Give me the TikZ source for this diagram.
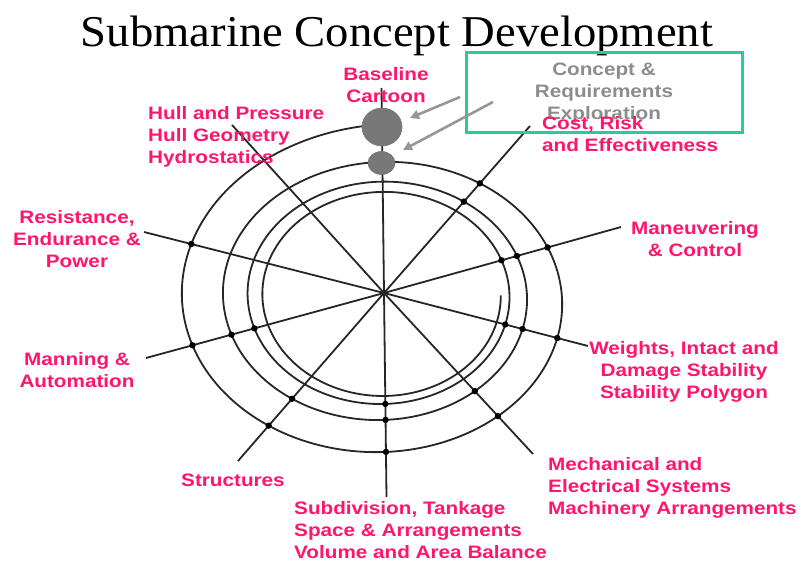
\documentclass[tikz,border=0pt]{standalone}
\usepackage{fontspec}
\setmainfont{Liberation Serif}
\newfontfamily\titlefont[FakeStretch=1.06]{Liberation Serif}
\newfontfamily\lblfont[FakeStretch=1.15]{Liberation Sans}
\usetikzlibrary{intersections,arrows.meta,shapes.geometric}

\definecolor{lblpink}{RGB}{255,20,110}
\definecolor{boxgreen}{RGB}{40,205,150}
\definecolor{boxtext}{RGB}{140,140,140}
\definecolor{arrowgray}{RGB}{150,150,150}
\definecolor{discgray}{RGB}{120,120,120}

\begin{document}
\begin{tikzpicture}[x=1pt,y=-1pt,
  declare function={
    Tt(\t)=203-79*exp(-0.6539*(\t-90)/360);
    Ll(\t)=284.5-102.5*exp(-0.5108*(\t-180)/360);
    Bb(\t)=388+64*exp(-0.6931*(\t-270)/360);
    Rr(\t)=492+70*exp(-0.6931*(\t-360)/360);
  },
  lbl/.style={text=lblpink, inner sep=0pt,
    font={\lblfont\bfseries\fontsize{18}{22}\selectfont}},
  web/.style={line width=1.8pt, draw=black!85},
  knot/.style={fill=black},
  disc/.style={ellipse, fill=discgray, draw=black!55, line width=0.6pt, inner sep=0pt},
  feed/.style={draw=arrowgray, line width=2.6pt, -{Triangle[length=9pt,width=9pt]}},
  conceptbox/.style={draw=boxgreen, line width=3pt, minimum width=276pt,
    minimum height=80pt, inner sep=0pt, text=boxtext, align=center,
    font={\lblfont\bfseries\fontsize{18}{22}\selectfont}},
]
\useasboundingbox (0,0) rectangle (804,561);

% title
\node[anchor=base, inner sep=0pt, font={\titlefont\fontsize{44}{50}\selectfont}] (title) at (397,47) {Submarine Concept Development};

% the design spiral
\draw[web, name path global=spiral]
  plot[domain=90:1440, samples=700, variable=\t]
  ({(Ll(\t)+Rr(\t))/2+(Rr(\t)-Ll(\t))/2*cos(\t)},
   {(Tt(\t)+Bb(\t))/2-(Bb(\t)-Tt(\t))/2*sin(\t)});

% spokes
\coordinate (hub) at (384,293);
\coordinate (e1) at (232,125);
\coordinate (e2) at (381.5,88);
\coordinate (e3) at (530,126);
\coordinate (e4) at (621,227);
\coordinate (e5) at (588,346);
\coordinate (e6) at (533,454);
\coordinate (e7) at (386.5,497);
\coordinate (e8) at (238,461);
\coordinate (e9) at (146,358);
\coordinate (e10) at (144,232);
\draw[web, name path=sA] (e1) -- (hub);
\draw[web, name path=sB] (e2) -- (hub);
\draw[web, name path=sC] (e3) -- (hub);
\draw[web, name path=sD] (e4) -- (hub);
\draw[web, name path=sE] (e5) -- (hub);
\draw[web, name path=sF] (e6) -- (hub);
\draw[web, name path=sG] (e7) -- (hub);
\draw[web, name path=sH] (e8) -- (hub);
\draw[web, name path=sI] (e9) -- (hub);
\draw[web, name path=sJ] (e10) -- (hub);

% knots where the spokes cross the outer turns
\path[name intersections={of=sC and spiral, sort by=sC, name=xC}];
\path[name intersections={of=sD and spiral, sort by=sD, name=xD}];
\path[name intersections={of=sE and spiral, sort by=sE, name=xE}];
\path[name intersections={of=sF and spiral, sort by=sF, name=xF}];
\path[name intersections={of=sG and spiral, sort by=sG, name=xG}];
\path[name intersections={of=sH and spiral, sort by=sH, name=xH}];
\path[name intersections={of=sI and spiral, sort by=sI, name=xI}];
\path[name intersections={of=sJ and spiral, sort by=sJ, name=xJ}];
\foreach \p in {xC-1,xC-2,xD-1,xD-2,xD-3,xE-1,xE-2,xE-3,xF-1,xF-2,
                xG-1,xG-2,xG-3,xH-1,xH-2,xI-1,xI-2,xI-3,xJ-1}
  \fill[knot] (\p) circle (3.2);

% baseline points on the vertical spoke
\node[disc, minimum width=40pt, minimum height=38pt] (bigdisc) at (382,127) {};
\node[disc, minimum width=27pt, minimum height=23pt] (smalldisc) at (381.5,163) {};

% concept box and its feed arrows
\node[conceptbox] (concept) at (604,93) {Concept \&\\Requirements\\Exploration};
\coordinate (f1s) at (460,97);
\coordinate (f1e) at (410,118);
\coordinate (f2s) at (493,102);
\coordinate (f2e) at (403,150);
\draw[feed] (f1s) -- (f1e);
\draw[feed] (f2s) -- (f2e);

% spoke labels
\node[lbl, anchor=north, align=center] (l0) at (386,67.5) {Baseline\\Cartoon};
\node[lbl, anchor=north west, align=left] (l1) at (148,106.5) {Hull and Pressure\\Hull Geometry\\Hydrostatics};
\node[lbl, anchor=north west, align=left] (l3) at (542,116.5) {Cost, Risk\\and Effectiveness};
\node[lbl, anchor=north, align=center] (l4) at (695,221.5) {Maneuvering\\\& Control};
\node[lbl, anchor=north, align=center] (l5) at (684,341.5) {Weights, Intact and\\Damage Stability\\Stability Polygon};
\node[lbl, anchor=north west, align=left] (l6) at (548,457.5) {Mechanical and\\Electrical Systems\\Machinery Arrangements};
\node[lbl, anchor=north west, align=left] (l7) at (294,501.5) {Subdivision, Tankage\\Space \& Arrangements\\Volume and Area Balance};
\node[lbl, anchor=north west, align=left] (l8) at (181,473.5) {Structures};
\node[lbl, anchor=north, align=center] (l9) at (77,352.5) {Manning \&\\Automation};
\node[lbl, anchor=north, align=center] (l10) at (77,210.5) {Resistance,\\Endurance \&\\Power};
\end{tikzpicture}
\end{document}
